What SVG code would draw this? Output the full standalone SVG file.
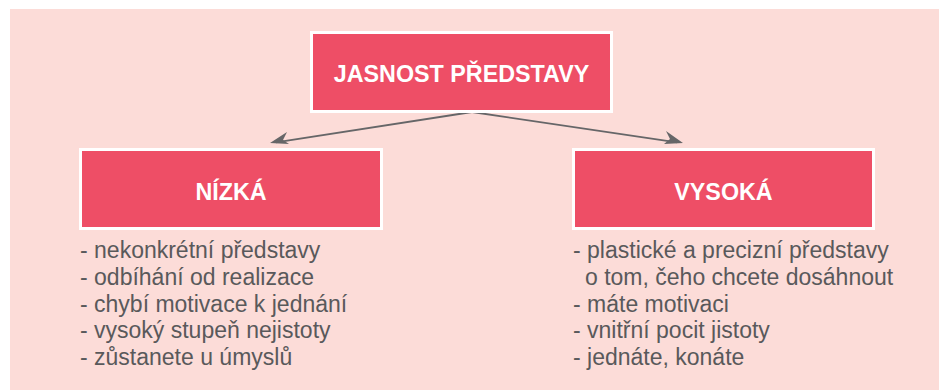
<svg xmlns="http://www.w3.org/2000/svg" width="939" height="390" viewBox="0 0 939 390">
<style>
.box{fill:#ee4e66;stroke:#ffffff;stroke-width:3}
.title{font-family:"Liberation Sans",Arial,sans-serif;font-weight:bold;font-size:23.3px;fill:#ffffff;text-anchor:middle}
.item{font-family:"Liberation Sans",Arial,sans-serif;font-size:23px;fill:#59595b}
.conn{stroke:#666668;stroke-width:1.8;fill:none}
.head{fill:#666668}
</style>
<rect x="10" y="9" width="929" height="381" fill="#fcdcd8"/>
<g id="connectors">
<path class="conn" d="M472,112 L276,142.4"/>
<path class="conn" d="M472,112 L677,142.4"/>
<polygon class="head" points="270,143 287,132 283,140 289,144"/>
<polygon class="head" points="683,143 666,131 670,139 664,144"/>
</g>
<g id="node-top">
<rect class="box" x="311.5" y="32.5" width="300" height="79"/>
<text class="title" x="461.5" y="81.5">JASNOST PŘEDSTAVY</text>
</g>
<g id="node-nizka">
<rect class="box" x="80.5" y="149.5" width="301" height="79"/>
<text class="title" x="231" y="200">NÍZKÁ</text>
</g>
<g id="node-vysoka">
<rect class="box" x="573.5" y="149.5" width="300" height="79"/>
<text class="title" x="723.5" y="200">VYSOKÁ</text>
</g>
<g id="list-nizka">
<text class="item" x="80" y="258">- nekonkrétní představy</text>
<text class="item" x="80" y="285">- odbíhání od realizace</text>
<text class="item" x="80" y="311.5">- chybí motivace k jednání</text>
<text class="item" x="80" y="338">- vysoký stupeň nejistoty</text>
<text class="item" x="80" y="365">- zůstanete u úmyslů</text>
</g>
<g id="list-vysoka">
<text class="item" x="573" y="258">- plastické a precizní představy</text>
<text class="item" x="585" y="285">o tom, čeho chcete dosáhnout</text>
<text class="item" x="573" y="311.5">- máte motivaci</text>
<text class="item" x="573" y="338">- vnitřní pocit jistoty</text>
<text class="item" x="573" y="365">- jednáte, konáte</text>
</g>
</svg>
